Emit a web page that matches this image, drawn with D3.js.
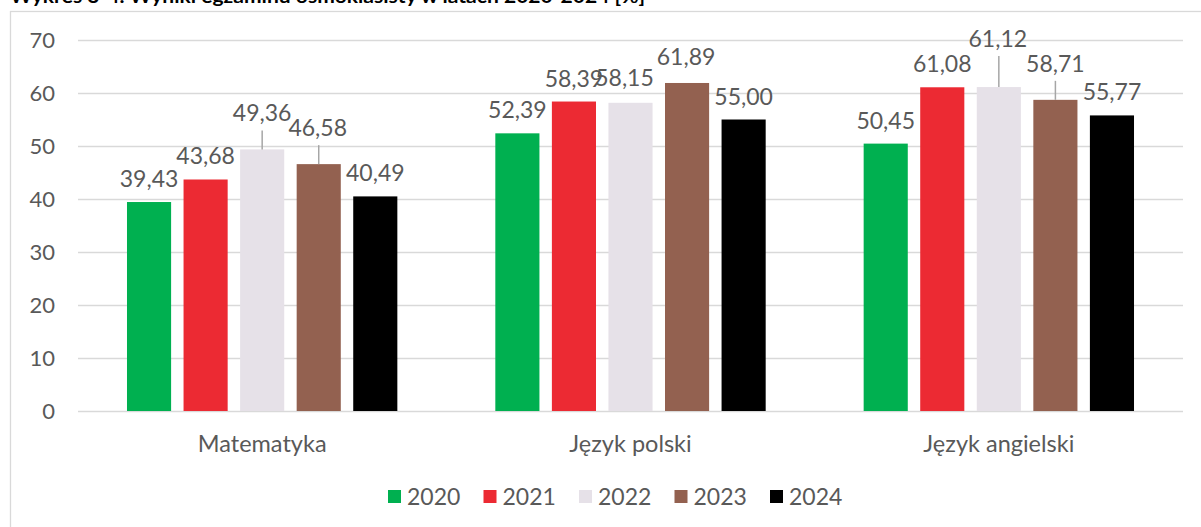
<!DOCTYPE html>
<html>
<head>
<meta charset="utf-8">
<script src="https://cdn.jsdelivr.net/npm/d3@7"></script>
<style>
  html, body { margin: 0; padding: 0; background: #fff; }
  svg { display: block; font-family: Lato, "Open Sans", sans-serif; }
</style>
</head>
<body>
<svg id="chart" width="1201" height="527"></svg>
<script>
// ---- data ----
const categories = ["Matematyka", "Język polski", "Język angielski"];
const seriesNames = ["2020", "2021", "2022", "2023", "2024"];
const values2020 = [39.43, 52.39, 50.45];
const values2021 = [43.68, 58.39, 61.08];
const values2022 = [49.36, 58.15, 61.12];
const values2023 = [46.58, 61.89, 58.71];
const values2024 = [40.49, 55.00, 55.77];
const yTicks = [0, 10, 20, 30, 40, 50, 60, 70];
const titleText = "Wykres 3-4. Wyniki egzaminu ósmoklasisty w latach 2020-2024 [%]";

// ---- styling / layout ----
const colors = ["#00B050", "#EC2A33", "#E6E1E8", "#936150", "#000000"];
const textColor = "#595959";
const gridColor = "#D9D9D9";
// label nudges (pixels) for labels Excel moved away from the bar, with leader lines
const labelNudge = {
  "Matematyka|2022": { dx: 0, dy: -13, leader: true },
  "Matematyka|2023": { dx: -1, dy: -13, leader: true },
  "Język polski|2022": { dx: -6, dy: -2, leader: false },
  "Język polski|2023": { dx: -1, dy: -3, leader: false },
  "Język angielski|2022": { dx: -1, dy: -25, leader: true },
  "Język angielski|2023": { dx: 0, dy: -13, leader: true }
};

const seriesValues = [values2020, values2021, values2022, values2023, values2024];
const rows = categories.map((c, i) => ({
  category: c,
  values: seriesNames.map((s, j) => ({ series: s, value: seriesValues[j][i], idx: j }))
}));

const svg = d3.select("#chart");

// outer chart border
svg.append("rect")
  .attr("x", 10.5).attr("y", 11.5)
  .attr("width", 1200).attr("height", 540)
  .attr("fill", "#fff").attr("stroke", "#D9D9D9").attr("stroke-width", 1.3);

// title (clipped at top in reference)
svg.append("text")
  .attr("x", 10).attr("y", 3)
  .attr("font-weight", "bold").attr("font-size", 19)
  .attr("fill", "#000")
  .attr("textLength", 635).attr("lengthAdjust", "spacingAndGlyphs")
  .text(titleText);

const plotLeft = 78, plotRight = 1183, plotTop = 40, plotBottom = 411;

const y = d3.scaleLinear().domain([0, 70]).range([plotBottom, plotTop]);
const x0 = d3.scaleBand().domain(categories).range([plotLeft, plotRight])
  .paddingInner(0.266).paddingOuter(0.133);
const x1 = d3.scaleBand().domain(seriesNames).range([0, x0.bandwidth()])
  .paddingInner(0.22).paddingOuter(0);

// gridlines + y labels via axis
const yAxis = d3.axisLeft(y).tickValues(yTicks).tickSize(-(plotRight - plotLeft)).tickPadding(23)
  .tickFormat(d3.format("d"));
const gy = svg.append("g").attr("transform", `translate(${plotLeft},0)`).call(yAxis);
gy.select(".domain").remove();
gy.selectAll(".tick line").attr("stroke", gridColor).attr("stroke-width", 1.5);
gy.selectAll(".tick text").attr("fill", textColor).attr("font-size", 22)
  .attr("font-family", "Lato, sans-serif");

// x category labels via axis
const xAxis = d3.axisBottom(x0).tickSize(0).tickPadding(24);
const gx = svg.append("g").attr("transform", `translate(0,${plotBottom})`).call(xAxis);
gx.select(".domain").remove();
gx.selectAll(".tick text").attr("fill", textColor).attr("font-size", 23.5)
  .attr("font-family", "Lato, sans-serif");

// bars
const groups = svg.append("g").selectAll("g").data(rows).join("g")
  .attr("transform", d => `translate(${x0(d.category)},0)`);

groups.selectAll("rect").data(d => d.values).join("rect")
  .attr("x", d => x1(d.series))
  .attr("y", d => y(d.value))
  .attr("width", x1.bandwidth())
  .attr("height", d => y(0) - y(d.value))
  .attr("fill", d => colors[d.idx]);

// data labels
const fmt = v => v.toFixed(2).replace(".", ",");
const labelGap = 15;
groups.each(function (row) {
  const g = d3.select(this);
  row.values.forEach(d => {
    const nudge = labelNudge[row.category + "|" + d.series] || { dx: 0, dy: 0, leader: false };
    const cx = x1(d.series) + x1.bandwidth() / 2;
    const top = y(d.value);
    const baseY = top - labelGap + nudge.dy;
    if (nudge.leader) {
      g.append("line")
        .attr("x1", cx).attr("x2", cx)
        .attr("y1", baseY + 9).attr("y2", top)
        .attr("stroke", "#A6A6A6").attr("stroke-width", 1.5);
    }
    g.append("text")
      .attr("x", cx + nudge.dx).attr("y", baseY)
      .attr("text-anchor", "middle")
      .attr("font-size", 23).attr("fill", textColor)
      .text(fmt(d.value));
  });
});

// legend
const legend = svg.append("g").attr("transform", "translate(388,490)");
const legendStep = 95.5;
const li = legend.selectAll("g").data(seriesNames).join("g")
  .attr("transform", (d, i) => `translate(${i * legendStep},0)`);
li.append("rect").attr("width", 13).attr("height", 13)
  .attr("fill", (d, i) => colors[i]);
li.append("text").attr("x", 19).attr("y", 15)
  .attr("font-size", 23).attr("fill", textColor).text(d => d);
</script>
</body>
</html>
